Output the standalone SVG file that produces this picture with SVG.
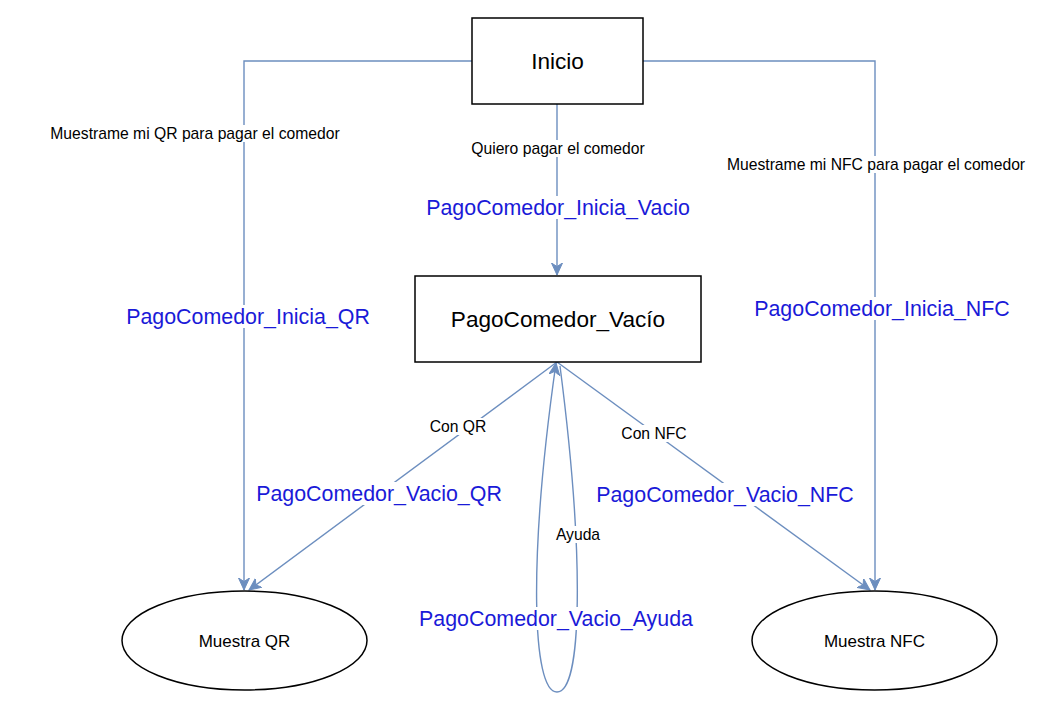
<svg xmlns="http://www.w3.org/2000/svg" width="1062" height="701" viewBox="0 0 1062 701">
<style>
.bg{fill:#ffffff}
.box{fill:#ffffff;stroke:#000000;stroke-width:1.5}
.ell{fill:#ffffff;stroke:#000000;stroke-width:1.5}
.edge{fill:none;stroke:#6c8ebf;stroke-width:1.4}
.lbg{fill:#ffffff}
.t{font-family:"Liberation Sans",Arial,sans-serif;text-anchor:middle;fill:#000000}
.big{font-size:22.6px}
.node{font-size:17px}
.lab{font-size:15.7px}
.blue{font-size:21.4px;fill:#1a1ad8}
</style>
<defs>
<marker id="arr" markerUnits="userSpaceOnUse" markerWidth="14" markerHeight="12" refX="12" refY="5.5" orient="auto">
<path d="M0,0 L12,5.5 L0,11 L3.5,5.5 Z" fill="#6c8ebf" stroke="#6c8ebf" stroke-width="1"/>
</marker>
</defs>
<rect class="bg" x="0" y="0" width="1062" height="701"/>
<g id="connectors">
<path class="edge" d="M472,61 H244 V590" marker-end="url(#arr)"/>
<path class="edge" d="M643,61 H875 V590" marker-end="url(#arr)"/>
<path class="edge" d="M557,104 V275" marker-end="url(#arr)"/>
<path class="edge" d="M557,362 L249,590" marker-end="url(#arr)"/>
<path class="edge" d="M557,362 L870,590" marker-end="url(#arr)"/>
<path class="edge" d="M560,366 C585,560 582,692 557,692 C532,692 528,560 556,363" marker-end="url(#arr)"/>
</g>
<g id="edge-labels">
<rect class="lbg" x="50" y="125" width="290" height="17"/>
<text class="t lab" x="195" y="138.5">Muestrame mi QR para pagar el comedor</text>
<rect class="lbg" x="126" y="305" width="244" height="23"/>
<text class="t blue" x="248" y="323.5">PagoComedor_Inicia_QR</text>
<rect class="lbg" x="463" y="140" width="190" height="17"/>
<text class="t lab" x="558" y="153.5">Quiero pagar el comedor</text>
<rect class="lbg" x="426" y="196" width="264" height="23"/>
<text class="t blue" x="558" y="214.5">PagoComedor_Inicia_Vacio</text>
<rect class="lbg" x="726" y="156" width="300" height="17"/>
<text class="t lab" x="876" y="169.5">Muestrame mi NFC para pagar el comedor</text>
<rect class="lbg" x="755" y="297" width="255" height="23"/>
<text class="t blue" x="882" y="315.5">PagoComedor_Inicia_NFC</text>
<rect class="lbg" x="430" y="418" width="57" height="17"/>
<text class="t lab" x="458" y="431.5">Con QR</text>
<rect class="lbg" x="257" y="482" width="245" height="23"/>
<text class="t blue" x="379" y="500.5">PagoComedor_Vacio_QR</text>
<rect class="lbg" x="621" y="425" width="66" height="17"/>
<text class="t lab" x="654" y="438.5">Con NFC</text>
<rect class="lbg" x="597" y="483" width="257" height="23"/>
<text class="t blue" x="725" y="501.5">PagoComedor_Vacio_NFC</text>
<rect class="lbg" x="556" y="526" width="45" height="17"/>
<text class="t lab" x="578" y="539.5">Ayuda</text>
<rect class="lbg" x="420" y="607" width="273" height="23"/>
<text class="t blue" x="556" y="625.5">PagoComedor_Vacio_Ayuda</text>
</g>
<g id="node-inicio">
<rect class="box" x="472" y="18" width="171" height="86"/>
<text class="t big" x="557.5" y="69">Inicio</text>
</g>
<g id="node-pagocomedor-vacio">
<rect class="box" x="415" y="276" width="286" height="86"/>
<text class="t big" x="558" y="327">PagoComedor_Vacío</text>
</g>
<g id="node-muestra-qr">
<ellipse class="ell" cx="244.5" cy="640.5" rx="122.5" ry="49.5"/>
<text class="t node" x="244.5" y="647">Muestra QR</text>
</g>
<g id="node-muestra-nfc">
<ellipse class="ell" cx="874.5" cy="640.5" rx="122.5" ry="49.5"/>
<text class="t node" x="874.5" y="647">Muestra NFC</text>
</g>
</svg>
